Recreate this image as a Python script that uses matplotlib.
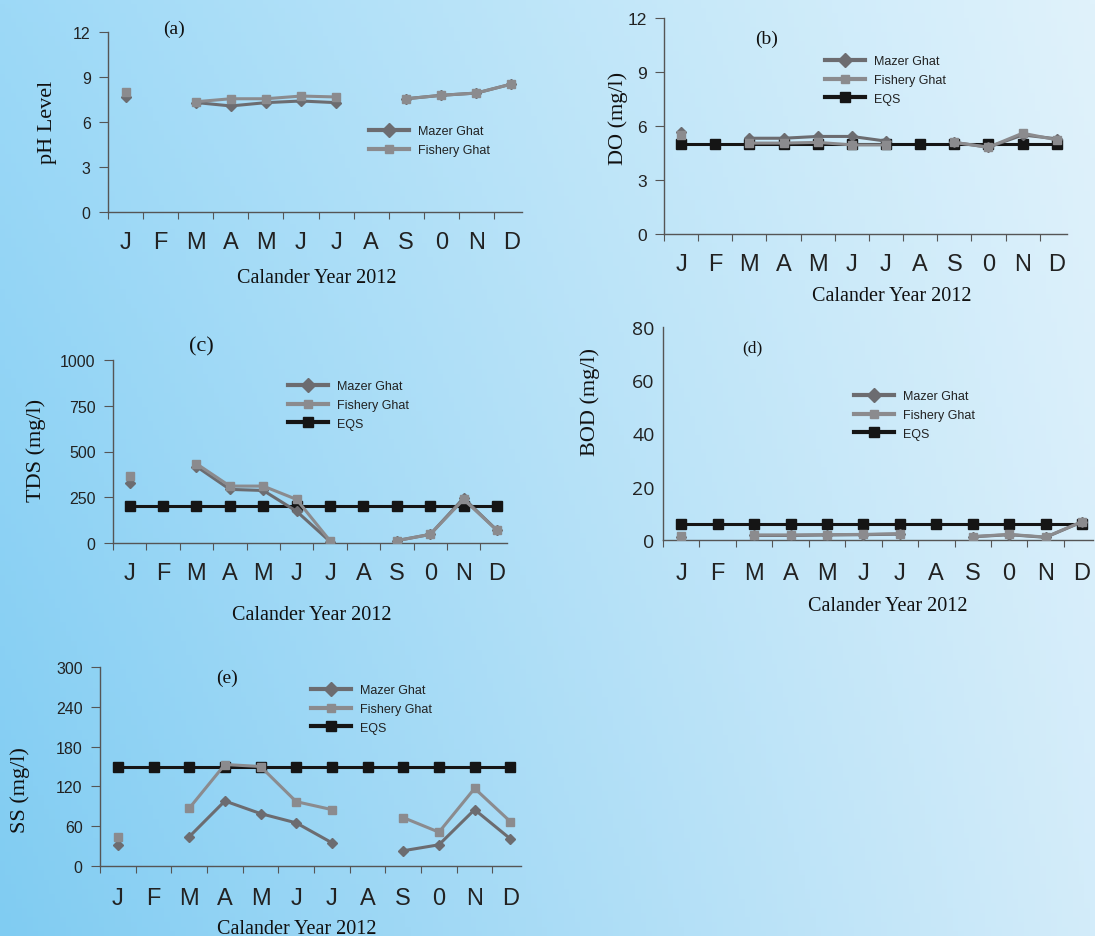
import numpy as np
import matplotlib
matplotlib.use("Agg")
from matplotlib import pyplot as plt
from matplotlib.lines import Line2D

W, H = 1095, 937

months = ['J', 'F', 'M', 'A', 'M', 'J', 'J', 'A', 'S', '0', 'N', 'D']
nan = np.nan

# (a) pH
ph_mazer = [7.7, nan, 7.3, 7.07, 7.29, 7.4, 7.29, nan, 7.55, 7.78, 7.93, 8.53]
ph_fishery = [8.0, nan, 7.35, 7.55, 7.55, 7.73, 7.67, nan, 7.55, 7.78, 7.93, 8.53]

# (b) DO
do_mazer = [5.69, nan, 5.32, 5.32, 5.42, 5.42, 5.16, nan, 5.09, 4.82, 5.5, 5.29]
do_fishery = [5.5, nan, 5.05, 5.05, 5.09, 4.95, 4.95, nan, 5.09, 4.82, 5.6, 5.23]
do_eqs = [5] * 12

# (c) TDS
tds_mazer = [327, nan, 418, 293, 287, 173, 8, nan, 13, 47, 245, 69]
tds_fishery = [364, nan, 433, 311, 311, 238, 12, nan, 13, 47, 238, 69]
tds_eqs = [200] * 12

# (d) BOD
bod_mazer = [1.3, nan, 1.7, 1.7, 1.9, 2.0, 2.2, nan, 1.2, 2.0, 1.0, 6.8]
bod_fishery = [1.5, nan, 1.9, 1.9, 2.0, 2.1, 2.4, nan, 1.3, 2.1, 1.1, 6.9]
bod_eqs = [6] * 12

# (e) SS
ss_mazer = [32, nan, 44, 98, 79, 65, 35, nan, 23, 32, 85, 41]
ss_fishery = [43, nan, 87, 153, 150, 97, 85, nan, 73, 51, 117, 67]
ss_eqs = [150] * 12

c_mazer = '#6c6c70'
c_fish = '#8b8b8e'
c_eqs = '#151515'
sans = ['Liberation Sans', 'DejaVu Sans']

fig = plt.figure(figsize=(W / 100, H / 100), dpi=100)

# gradient background
bg = fig.add_axes([0, 0, 1, 1], zorder=-10)
tl, tr = np.array([157, 217, 247]), np.array([224, 242, 251])
bl, br = np.array([128, 204, 242]), np.array([211, 236, 250])
u = np.linspace(0, 1, 200)[None, :, None]
v = np.linspace(0, 1, 200)[:, None, None]
img = (1 - v) * ((1 - u) * tl + u * tr) + v * ((1 - u) * bl + u * br)
bg.imshow(img / 255, aspect='auto', extent=[0, 1, 0, 1])
bg.axis('off')


def panel(box, ylim, yticks, mazer, fishery, eqs, letter, letter_xy, letter_size,
          ylabel, ylab_xy, xlab_xy, leg_xy, ytick_font, ytick_size, ytick_len,
          month_pad):
    left, right, bottom, top = box
    ax = fig.add_axes([left / W, (H - bottom) / H, (right - left) / W, (bottom - top) / H])
    ax.patch.set_alpha(0)
    x = np.arange(12) + 0.5
    if eqs is not None:
        ax.plot(x, eqs, color=c_eqs, lw=2.2, marker='s', ms=6.5, zorder=2, label='EQS')
    ax.plot(x, mazer, color=c_mazer, lw=2.2, marker='D', ms=5, zorder=3, label='Mazer Ghat')
    ax.plot(x, fishery, color=c_fish, lw=2.2, marker='s', ms=5.5, zorder=4, label='Fishery Ghat')
    ax.set_xlim(0, 11.8)
    ax.set_ylim(*ylim)
    ax.set_yticks(yticks)
    for s in ['top', 'right']:
        ax.spines[s].set_visible(False)
    for s in ['left', 'bottom']:
        ax.spines[s].set_color('#555555')
        ax.spines[s].set_linewidth(1.0)
    ax.set_xticks(np.arange(12))
    ax.set_xticklabels([])
    ax.set_xticks(x, minor=True)
    ax.set_xticklabels(months, minor=True, fontsize=17, family='Liberation Sans', color='#222222')
    ax.tick_params(axis='x', which='major', length=5, direction='out', color='#555555')
    ax.tick_params(axis='x', which='minor', length=0, pad=month_pad)
    ax.tick_params(axis='y', length=ytick_len, direction='out', color='#555555', pad=6)
    for t in ax.get_yticklabels():
        t.set_family(ytick_font)
        t.set_fontsize(ytick_size)
        t.set_color('#222222')
    ax.set_xlabel('Calander Year 2012', family='Liberation Serif', fontsize=14.5, color='#111111')
    ax.xaxis.set_label_coords((xlab_xy[0] - left) / (right - left),
                              (bottom - xlab_xy[1]) / (bottom - top))
    ax.set_ylabel(ylabel, family='Liberation Serif', fontsize=16, color='#111111')
    ax.yaxis.set_label_coords((ylab_xy[0] - left) / (right - left),
                              (bottom - ylab_xy[1]) / (bottom - top))
    ax.yaxis.label.set_va('center')
    fig.text(letter_xy[0] / W, 1 - letter_xy[1] / H, letter, family='Liberation Serif',
             fontsize=letter_size, ha='center', va='center', color='#111111')
    handles = [Line2D([], [], color=c_mazer, lw=3, marker='D', ms=7),
               Line2D([], [], color=c_fish, lw=3, marker='s', ms=6)]
    labels = ['Mazer Ghat', 'Fishery Ghat']
    if eqs is not None:
        handles.append(Line2D([], [], color=c_eqs, lw=3, marker='s', ms=7))
        labels.append('EQS')
    leg = ax.legend(handles, labels, loc='upper left',
                    bbox_to_anchor=(leg_xy[0] / W, 1 - leg_xy[1] / H),
                    bbox_transform=fig.transFigure, frameon=False, borderpad=0,
                    borderaxespad=0, handlelength=3.2, handletextpad=0.7,
                    labelspacing=0.55, prop={'family': sans, 'size': 9})
    for t in leg.get_texts():
        t.set_color('#222222')
    return ax


panel((108, 522, 213, 33), (0, 12), [0, 3, 6, 9, 12], ph_mazer, ph_fishery, None,
      '(a)', (174, 29), 14, 'pH Level', (47, 122), (317, 269), (369, 126),
      sans, 11.5, 6.5, 14)

panel((664, 1067, 235, 19), (0, 12), [0, 3, 6, 9, 12], do_mazer, do_fishery, do_eqs,
      '(b)', (767, 39), 14, 'DO (mg/l)', (618, 118), (892, 287), (825, 56),
      sans, 12.5, 6.5, 14)

panel((113, 507, 544, 361), (0, 1000), [0, 250, 500, 750, 1000], tds_mazer, tds_fishery,
      tds_eqs, '(c)', (201, 347), 16, 'TDS (mg/l)', (36, 450), (312, 606), (288, 381),
      sans, 11.5, 6.5, 14)

panel((663, 1093, 541, 328), (0, 80), [0, 20, 40, 60, 80], bod_mazer, bod_fishery,
      bod_eqs, '(d)', (752, 348), 12.5, 'BOD (mg/l)', (590, 402), (888, 597), (854, 391),
      ['Open Sans', 'DejaVu Sans'], 14, 0, 16)

panel((100, 521, 867, 668), (0, 300), [0, 60, 120, 180, 240, 300], ss_mazer, ss_fishery,
      ss_eqs, '(e)', (227, 678), 14, 'SS (mg/l)', (20, 790), (297, 920), (311, 685),
      sans, 11.5, 6.5, 15)

fig.savefig('out.png', dpi=100)
